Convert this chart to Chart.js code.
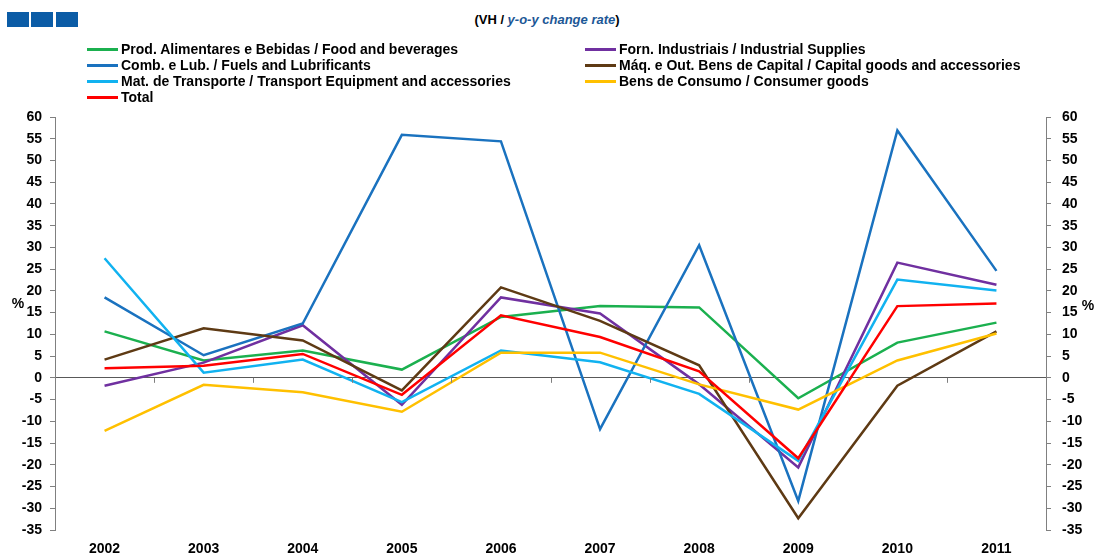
<!DOCTYPE html>
<html>
<head>
<meta charset="utf-8">
<script src="https://cdn.jsdelivr.net/npm/chart.js@4/dist/chart.umd.min.js"></script>
<style>
  body { margin: 0; background: #fff; font-family: "Liberation Sans", Arial, sans-serif; }
  #wrap { position: relative; width: 1094px; height: 554px; }
  #myChart { position: absolute; left: 0; top: 0; }
  .sq { position: absolute; top: 12px; width: 22px; height: 15px; background: #0B5CA6; }
  #subtitle { position: absolute; top: 12px; left: 0; width: 1094px; text-align: center;
    font-weight: bold; font-size: 13px; color: #000; }
  #subtitle i { color: #1C5796; }
  #legend { position: absolute; left: 87px; top: 41px; display: grid;
    grid-template-columns: 498px auto; grid-auto-rows: 16px; }
  .item { display: flex; align-items: center; font-weight: bold; font-size: 14px; color: #000; white-space: nowrap; }
  .item span.ln { display: inline-block; width: 31px; height: 3px; margin-right: 3px; }
</style>
</head>
<body>
<div id="wrap">
  <div class="sq" style="left:7px"></div>
  <div class="sq" style="left:31px"></div>
  <div class="sq" style="left:56px"></div>
  <div id="subtitle">(VH / <i>y-o-y change rate</i>)</div>
  <canvas id="myChart" width="1094" height="554"></canvas>
  <div id="legend"></div>
</div>
<script>
const Years = ['2002','2003','2004','2005','2006','2007','2008','2009','2010','2011']

// values (%)
const Food       = [10.7, 4.0, 6.3, 1.9, 14.0, 16.5, 16.2, -4.7, 8.1, 12.7]
const Industrial = [-1.8, 3.5, 12.1, -6.2, 18.5, 14.8, -1.5, -20.6, 26.5, 21.4]
const Fuels      = [18.5, 5.2, 12.5, 55.9, 54.4, -11.8, 30.5, -28.3, 56.9, 24.6]
const Capital    = [4.2, 11.4, 8.6, -2.9, 20.8, 13.1, 2.9, -32.3, -1.8, 10.7]
const Transport  = [27.5, 1.2, 4.2, -5.6, 6.3, 3.6, -3.7, -19.1, 22.6, 20.1]
const Consumer   = [-12.2, -1.6, -3.3, -7.8, 5.8, 5.8, -1.5, -7.3, 4.0, 10.2]
const Total      = [2.2, 2.8, 5.5, -3.9, 14.4, 9.4, 1.5, -18.5, 16.5, 17.1]

const SeriesNames = [
  'Prod. Alimentares e Bebidas / Food and beverages',
  'Forn. Industriais / Industrial Supplies',
  'Comb. e Lub. /  Fuels and Lubrificants',
  'Máq. e Out. Bens de Capital / Capital goods and accessories',
  'Mat. de Transporte / Transport Equipment and accessories',
  'Bens de Consumo / Consumer goods',
  'Total'
]
const SeriesData = [Food, Industrial, Fuels, Capital, Transport, Consumer, Total]
const SeriesColors = ['#1BB04F', '#7030A0', '#1A72BF', '#5E3A14', '#11B2F0', '#FFC000', '#FF0000']

const FONT = "'Liberation Sans', Arial, sans-serif"

// x tick marks on the zero line + the "%" labels
const extras = {
  id: 'extras',
  afterDraw(chart) {
    const c = chart.ctx
    const x = chart.scales.x
    const y = chart.scales.y
    const y0 = y.getPixelForValue(0)
    c.save()
    c.strokeStyle = '#7f7f7f'
    c.lineWidth = 1
    for (let i = 0; i < Years.length - 1; i++) {
      const px = Math.round((x.getPixelForValue(i) + x.getPixelForValue(i + 1)) / 2) + 0.5
      c.beginPath()
      c.moveTo(px, y0)
      c.lineTo(px, y0 + 5)
      c.stroke()
    }
    c.fillStyle = '#000'
    c.font = 'bold 14px ' + FONT
    c.textAlign = 'center'
    c.textBaseline = 'middle'
    const py = y.getPixelForValue(17)
    c.fillText('%', 18, py)
    c.fillText('%', chart.width - 6, py + 2)
    c.restore()
  }
}

const ctx = document.getElementById('myChart')
const chart = new Chart(ctx, {
  type: 'line',
  data: {
    labels: Years,
    datasets: SeriesData.map((d, i) => ({
      label: SeriesNames[i],
      data: d,
      borderColor: SeriesColors[i],
      backgroundColor: SeriesColors[i],
      borderWidth: 2.5,
      pointRadius: 0,
      tension: 0,
      fill: false,
      order: SeriesData.length - 1 - i
    }))
  },
  options: {
    responsive: false,
    animation: false,
    layout: { padding: { top: 117, left: 0, right: 0, bottom: 0 } },
    plugins: {
      legend: { display: false },
      tooltip: { enabled: false }
    },
    scales: {
      x: {
        offset: true,
        grid: { display: false, drawTicks: false },
        border: { display: false },
        ticks: { color: '#000', font: { family: FONT, size: 14, weight: 'bold' }, padding: 11, maxRotation: 0 },
        afterFit(s) { s.height = 24 }
      },
      y: {
        position: 'left',
        min: -35, max: 60,
        ticks: { stepSize: 5, color: '#000', font: { family: FONT, size: 14, weight: 'bold' }, padding: 8 },
        grid: {
          color: c => c.tick && c.tick.value === 0 ? '#595959' : 'rgba(0,0,0,0)',
          tickColor: '#808080',
          tickLength: 5,
          lineWidth: 1
        },
        border: { display: true, color: '#808080', width: 1 },
        afterFit(s) { s.width = 55 }
      },
      y2: {
        position: 'right',
        min: -35, max: 60,
        ticks: { stepSize: 5, color: '#000', font: { family: FONT, size: 14, weight: 'bold' }, padding: 11 },
        grid: { drawOnChartArea: false, tickColor: '#808080', tickLength: 5 },
        border: { display: true, color: '#808080', width: 1 },
        afterFit(s) { s.width = 48 }
      }
    }
  },
  plugins: [extras]
})

// html legend, two columns filled row by row like the original
const legendBox = document.getElementById('legend')
chart.data.datasets.forEach(ds => {
  const item = document.createElement('div')
  item.className = 'item'
  item.innerHTML = `<span class="ln" style="background:${ds.borderColor}"></span>${ds.label}`
  legendBox.appendChild(item)
})
</script>
</body>
</html>
